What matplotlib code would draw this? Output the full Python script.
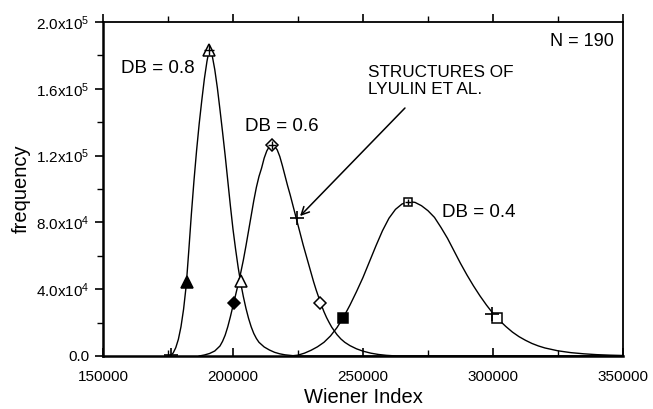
import matplotlib.pyplot as plt
from matplotlib.ticker import MultipleLocator, FixedLocator, FixedFormatter

plt.rcParams['font.family'] = ['Liberation Sans', 'DejaVu Sans']

# distribution curves (Wiener index, frequency)
w_08 = [175500, 176000, 177000, 178000, 179000, 180000, 181000, 182000, 183000,
        184000, 185000, 186000, 187000, 188000, 189000, 190000, 190500, 191000,
        191500, 192000, 193000, 194000, 195000, 196000, 197000, 198000, 199000,
        200000, 201000, 202000, 203000, 204000, 205000, 206000, 207000, 208000,
        209000, 210000, 212000, 214000, 216000, 218000, 220000, 223000, 226000,
        350000]
f_08 = [0, 300, 1800, 5000, 10000, 17500, 28000, 42000, 63000,
        85000, 105000, 123000, 139000, 153000, 166000, 176500, 180500, 183000,
        182300, 180000, 171500, 160500, 147500, 134000, 120000, 105000, 90000,
        76000, 64000, 53000, 43500, 35500, 28500, 22500, 17500, 13500,
        10500, 8200, 5400, 3600, 2200, 1300, 700, 200, 0,
        0]

w_06 = [187000, 189000, 191000, 193000, 195000, 196000, 197000, 198000, 199000,
        200000, 201000, 202000, 203000, 204000, 205000, 206000, 207000, 208000,
        209000, 210000, 211000, 212000, 213000, 214000, 215000, 216000, 217000,
        218000, 219000, 220000, 221000, 222000, 223000, 224000, 225000, 226000,
        227000, 228000, 229000, 230000, 231000, 232000, 233000, 234000, 235000,
        236000, 237000, 238000, 239000, 240000, 241500, 243000, 245000, 247500,
        250000, 253000, 256000, 259000, 263000, 350000]
f_06 = [0, 600, 1500, 3000, 6000, 8800, 12500, 17500, 23500,
        30000, 36500, 43000, 50000, 57500, 66000, 75000, 84000, 93000,
        101000, 107500, 112500, 118500, 122800, 125500, 126300, 125500, 123500,
        119500, 114000, 108000, 102000, 96500, 90500, 84500, 78500, 72500,
        66500, 61000, 55500, 50000, 44500, 39500, 35000, 30500, 26500,
        23000, 20000, 17200, 15000, 12800, 10200, 8200, 6200, 4300,
        2900, 1700, 900, 400, 0, 0]

w_04 = [222000, 225000, 227500, 230000, 232500, 235000, 237500, 240000, 242500,
        245000, 247500, 250000, 252500, 255000, 257500, 260000, 262500, 265000,
        267500, 270000, 272500, 275000, 277500, 280000, 282500, 285000, 287500,
        290000, 292500, 295000, 297500, 300000, 302500, 305000, 307500, 310000,
        312500, 315000, 317500, 320000, 325000, 330000, 335000, 340000, 345000,
        350000]
f_04 = [0, 500, 1700, 3400, 5500, 8200, 12000, 17000, 23200,
        30500, 38500, 47000, 56500, 66000, 75000, 82500, 87800, 91000,
        92400, 92000, 90000, 87000, 83000, 77000, 70500, 63000, 55500,
        48500, 42000, 36000, 30500, 25500, 21300, 17600, 14300, 11600,
        9400, 7500, 6000, 4800, 3100, 2000, 1300, 800, 500,
        300]

# marked points on each curve: peak, low side, high side
peak_w = [190900, 214900, 267400]
peak_f = [183000, 126300, 92400]
low_w = [182200, 200400, 242400]
low_f = [44500, 32000, 22600]
high_w = [202900, 233600, 301700]
high_f = [44700, 31800, 22800]

# structures of Lyulin et al.
lyulin_w = [176200, 224500, 299700]
lyulin_f = [800, 82400, 25000]

y_ticks = [0, 40000, 80000, 120000, 160000, 200000]
y_labels = ['0.0', r'$\mathregular{4.0x10^4}$', r'$\mathregular{8.0x10^4}$',
            r'$\mathregular{1.2x10^5}$', r'$\mathregular{1.6x10^5}$',
            r'$\mathregular{2.0x10^5}$']

fig = plt.figure(figsize=(6.53, 4.09), dpi=100)
ax = fig.add_axes([0.1577, 0.1296, 0.7963, 0.8166])

ax.plot(w_08, f_08, color='black', lw=1.0)
ax.plot(w_06, f_06, color='black', lw=1.0)
ax.plot(w_04, f_04, color='black', lw=1.0)

shapes = ['^', 'D', 's']
peak_ms = [9, 6.5, 6]
side_ms = [9, 6.5, 6.5]
for i in range(3):
    ax.plot(peak_w[i], peak_f[i], marker=shapes[i], ms=peak_ms[i], mfc='white',
            mec='black', mew=1.1, ls='none', zorder=3)
    ax.plot(peak_w[i], peak_f[i], marker='+', ms=peak_ms[i] * 0.8, mec='black',
            mew=1.0, ls='none', zorder=4)
    ax.plot(low_w[i], low_f[i], marker=shapes[i], ms=side_ms[i], mfc='black',
            mec='black', mew=1.1, ls='none', zorder=3)
    ax.plot(high_w[i], high_f[i], marker=shapes[i], ms=side_ms[i], mfc='white',
            mec='black', mew=1.1, ls='none', zorder=3)

ax.plot(lyulin_w, lyulin_f, marker='+', ms=10, mec='black', mew=1.2,
        ls='none', zorder=4)

ax.text(171000, 172000, 'DB = 0.8', fontsize=13.5, ha='center', va='center')
ax.text(218800, 137700, 'DB = 0.6', fontsize=13.5, ha='center', va='center')
ax.text(294600, 86200, 'DB = 0.4', fontsize=13.5, ha='center', va='center')
ax.text(346500, 188600, 'N = 190', fontsize=13, ha='right', va='center')
ax.text(251900, 164700, 'STRUCTURES OF\nLYULIN ET AL.', fontsize=12.3,
        ha='left', va='center', linespacing=1.15)
ax.annotate('', xy=(225800, 83800), xytext=(266150, 148500),
            arrowprops=dict(arrowstyle='->', color='black', lw=1.1,
                            mutation_scale=14, shrinkA=0, shrinkB=0))

ax.set_xlim(150000, 350000)
ax.set_ylim(0, 200000)
ax.xaxis.set_major_locator(MultipleLocator(50000))
ax.xaxis.set_minor_locator(MultipleLocator(25000))
ax.yaxis.set_major_locator(FixedLocator(y_ticks))
ax.yaxis.set_major_formatter(FixedFormatter(y_labels))
ax.yaxis.set_minor_locator(MultipleLocator(20000))

ax.tick_params(axis='x', which='both', direction='in', top=True, labelsize=11,
               pad=10)
ax.tick_params(axis='x', which='major', length=6, width=1.2)
ax.tick_params(axis='x', which='minor', length=4, width=1.0)
ax.tick_params(axis='y', which='both', direction='out', labelsize=11)
ax.tick_params(axis='y', which='major', length=6, width=1.2)
ax.tick_params(axis='y', which='minor', length=4, width=1.0)
# top ticks stick out above the frame
for t in ax.xaxis.get_major_ticks() + ax.xaxis.get_minor_ticks():
    t.tick2line.set_marker(2)

for side in ['left', 'bottom']:
    ax.spines[side].set_linewidth(1.8)
for side in ['top', 'right']:
    ax.spines[side].set_linewidth(1.3)

ax.set_xlabel('Wiener Index', fontsize=14.5, labelpad=3)
ax.set_ylabel('frequency', fontsize=14.5, labelpad=4)

fig.savefig('out.png', dpi=100)
